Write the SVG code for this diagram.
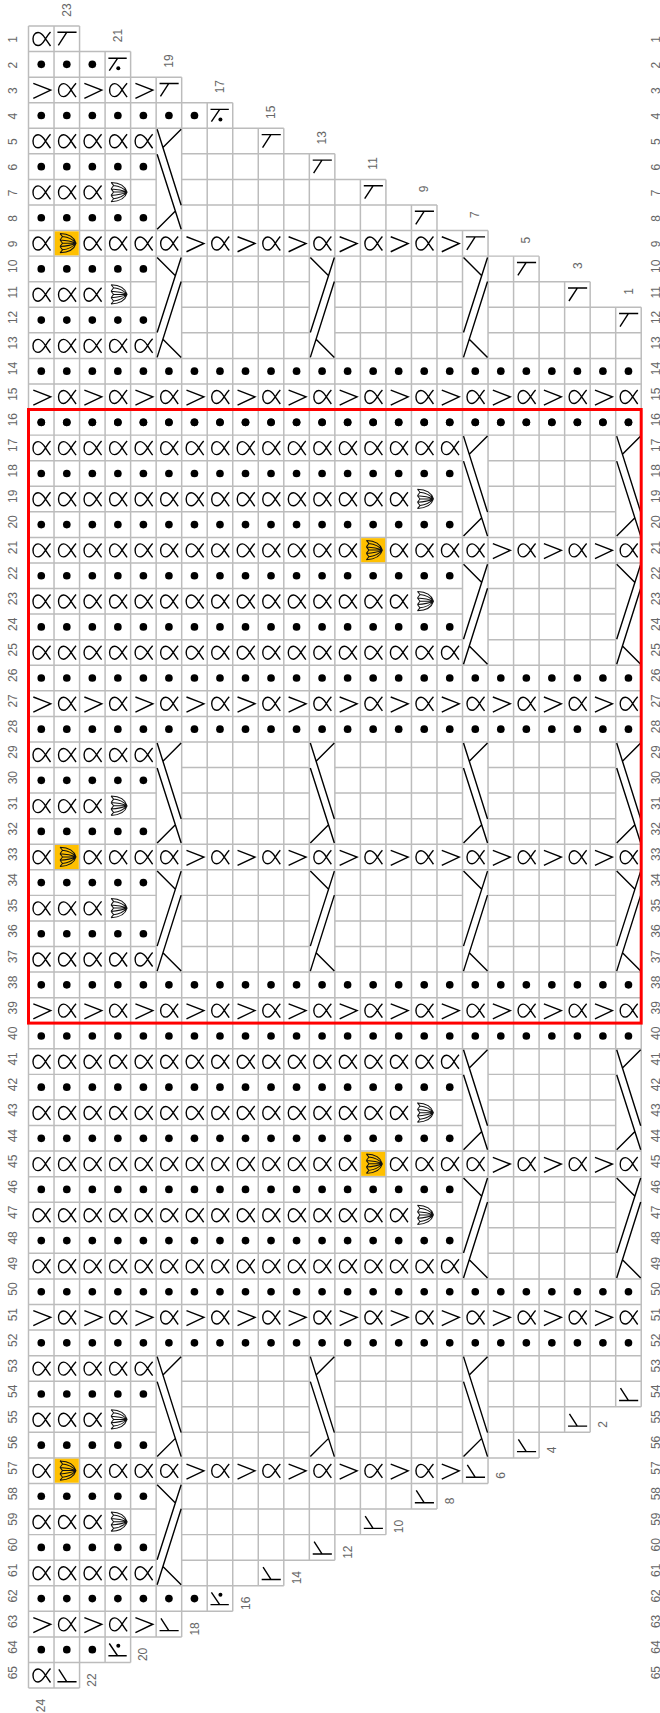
<svg xmlns="http://www.w3.org/2000/svg" width="660" height="1713" viewBox="0 0 660 1713">
<style>
.g{stroke:#bcbcbc;stroke-width:.058;fill:none}
.k{stroke:#000;stroke-width:1.4;fill:none}
.s{stroke:#111;stroke-width:1;fill:none}
.dot{fill:#000}
.n{font:12px "Liberation Sans",Arial,sans-serif;fill:#666}
.m{text-anchor:middle}
.r{fill:none;stroke:#f00;stroke-width:3}
</style>
<defs>
<circle id="d" class="dot" cx=".5" cy=".5" r=".15"/>
<g id="d2"><use href="#d"/><use href="#d" x="1"/></g>
<g id="d4"><use href="#d2"/><use href="#d2" x="2"/></g>
<g id="d5"><use href="#d4"/><use href="#d" x="4"/></g>
<g id="d7"><use href="#d5"/><use href="#d2" x="5"/></g>
<g id="d8"><use href="#d4"/><use href="#d4" x="4"/></g>
<g id="d16"><use href="#d8"/><use href="#d8" x="8"/></g>
<g id="d17"><use href="#d16"/><use href="#d" x="16"/></g>
<g id="d24"><use href="#d16"/><use href="#d8" x="16"/></g>
<g id="a" transform="scale(.0392 .0391)"><path class="k" d="M22 6C20 8 18.5 10.5 17 12.8C15 16 13 19.5 9.5 19.5C6.5 19.5 4.5 16.5 4.5 12.8C4.5 9.5 6.5 6.5 9.5 6.5C13 6.5 15 9.5 17 12.8C18.5 15 20 17.5 22 20"/></g>
<g id="a2"><use href="#a"/><use href="#a" x="1"/></g>
<g id="a3"><use href="#a2"/><use href="#a" x="2"/></g>
<g id="a4"><use href="#a2"/><use href="#a2" x="2"/></g>
<g id="a5"><use href="#a4"/><use href="#a" x="4"/></g>
<g id="a8"><use href="#a4"/><use href="#a4" x="4"/></g>
<g id="a15"><use href="#a8"/><use href="#a4" x="8"/><use href="#a3" x="12"/></g>
<g id="a16"><use href="#a8"/><use href="#a8" x="8"/></g>
<g id="a17"><use href="#a16"/><use href="#a" x="16"/></g>
<g id="v" transform="scale(.0392 .0391)"><path class="k" d="M4.8 6.2L22.2 12.9L4.8 21.2"/></g>
<g id="p2"><use href="#v"/><use href="#a" x="1"/></g>
<g id="p4"><use href="#p2"/><use href="#p2" x="2"/></g>
<g id="p8"><use href="#p4"/><use href="#p4" x="4"/></g>
<g id="p16"><use href="#p8"/><use href="#p8" x="8"/></g>
<g id="p24"><use href="#p16"/><use href="#p8" x="16"/></g>
<g id="q2"><use href="#a"/><use href="#v" x="1"/></g>
<g id="q4"><use href="#q2"/><use href="#q2" x="2"/></g>
<g id="q8"><use href="#q4"/><use href="#q4" x="4"/></g>
<g id="q12"><use href="#q8"/><use href="#q4" x="8"/></g>
<g id="q16"><use href="#q8"/><use href="#q8" x="8"/></g>
<g id="t" transform="scale(.0392 .0391)"><path class="k" d="M3.4 6.3H22.5M12.5 6.6L4.3 19.3"/></g>
<g id="T" transform="scale(.0392 .0391)"><path class="k" d="M3.4 19.3H22.5M12.5 19L4.8 7"/></g>
<g id="td" transform="scale(.0392 .0391)"><path class="k" d="M3.3 6.7H21.6M12.3 7L4.2 19"/><circle class="dot" cx="13.2" cy="16.7" r="2"/></g>
<g id="Td" transform="scale(.0392 .0391)"><path class="k" d="M3.3 18.9H21.6M12.3 18.6L4.2 6.6"/><circle class="dot" cx="13.2" cy="8.9" r="2"/></g>
<g id="s" transform="scale(.0392 .0391)"><path class="s" d="M6 3C13 3.3 20 6 22 12.7C20 19.5 13 22 6 22.3M6 3L8.5 6M6 22.3L8.5 19.3M8.5 6C14 6.5 19 9 22 12.7M8.5 19.3C14 18.8 19 16 22 12.7M8.5 6L6 9.5M8.5 19.3L6 16M6 9.5C12 9.8 18 11 22 12.7M6 16C12 15.6 18 14.4 22 12.7M6 9.5L8.5 12.7L6 16M8.5 12.7H22"/></g>
<g id="y"><rect x=".03" y=".03" width=".94" height=".94" fill="#ffc000"/><use href="#s"/></g>
<g id="sh"><use href="#a"/><use href="#y" x="1"/><use href="#a3" x="2"/></g>
<g id="l3"><use href="#a3"/><use href="#s" x="3"/></g>
<g id="mr"><use href="#a15"/><use href="#s" x="15"/></g>
<g id="L"><use href="#a5"/><use href="#d5" y="1"/><use href="#l3" y="2"/><use href="#d5" y="3"/></g>
<g id="R"><use href="#d5"/><use href="#l3" y="1"/><use href="#d5" y="2"/><use href="#a5" y="3"/></g>
<g id="M"><use href="#a17"/><use href="#d17" y="1"/><use href="#mr" y="2"/><use href="#d17" y="3"/></g>
<g id="N"><use href="#d17"/><use href="#mr" y="1"/><use href="#d17" y="2"/><use href="#a17" y="3"/></g>
<g id="h"><use href="#a8"/><use href="#a4" x="8"/><use href="#a" x="12"/><use href="#y" x="13"/><use href="#a3" x="14"/><use href="#q2" x="17"/><use href="#q4" x="19"/><use href="#a" x="23"/></g>
<g id="o"><use href="#sh"/><use href="#q16" x="5"/><use href="#q2" x="21"/><use href="#a" x="23"/></g>
<g id="c" transform="scale(.0392 .0391)"><path class="k" d="M1 1L25 77M25 1L7 19M1 26L25 101M1 101L19 83"/></g>
<g id="C" transform="translate(0 4) scale(1 -1)"><use href="#c"/></g>
<g id="z"><use href="#d24"/><use href="#p24" y="1"/><use href="#d24" y="2"/></g>
</defs>
<g id="chart" transform="translate(28.5 26) scale(25.53 25.57)">
<path id="grid-v" class="g" d="M0 0V65M1 0V65M2 0V65M3 1V64M4 1V64M5 2V63M6 2V63M7 3V62M8 3V62M9 4V61M10 4V61M11 5V60M12 5V60M13 6V59M14 6V59M15 7V58M16 7V58M17 8V57M18 8V57M19 9V56M20 9V56M21 10V55M22 10V55M23 11V54M24 11V54"/>
<path id="grid-h" class="g" d="M0 0H2M0 1H4M0 2H6M0 3H8M0 4H10M0 5H5M6 5H12M0 6H5M6 6H14M0 7H5M6 7H16M0 8H18M0 9H20M0 10H5M6 10H11M12 10H17M18 10H22M0 11H5M6 11H11M12 11H17M18 11H24M0 12H5M6 12H11M12 12H17M18 12H24M0 13H24M0 14H24M0 15H24M0 16H24M0 17H17M18 17H23M0 18H17M18 18H23M0 19H17M18 19H23M0 20H24M0 21H24M0 22H17M18 22H23M0 23H17M18 23H23M0 24H17M18 24H23M0 25H24M0 26H24M0 27H24M0 28H24M0 29H5M6 29H11M12 29H17M18 29H23M0 30H5M6 30H11M12 30H17M18 30H23M0 31H5M6 31H11M12 31H17M18 31H23M0 32H24M0 33H24M0 34H5M6 34H11M12 34H17M18 34H23M0 35H5M6 35H11M12 35H17M18 35H23M0 36H5M6 36H11M12 36H17M18 36H23M0 37H24M0 38H24M0 39H24M0 40H24M0 41H17M18 41H23M0 42H17M18 42H23M0 43H17M18 43H23M0 44H24M0 45H24M0 46H17M18 46H23M0 47H17M18 47H23M0 48H17M18 48H23M0 49H24M0 50H24M0 51H24M0 52H24M0 53H5M6 53H11M12 53H17M18 53H24M0 54H5M6 54H11M12 54H17M18 54H24M0 55H5M6 55H11M12 55H17M18 55H22M0 56H20M0 57H18M0 58H5M6 58H16M0 59H5M6 59H14M0 60H5M6 60H12M0 61H10M0 62H8M0 63H6M0 64H4M0 65H2"/>
<g id="stitches">
<use href="#a" y="0"/><use href="#t" x="1" y="0"/>
<use href="#d2" y="1"/><use href="#d" x="2" y="1"/><use href="#td" x="3" y="1"/>
<use href="#p4" y="2"/><use href="#v" x="4" y="2"/><use href="#t" x="5" y="2"/>
<use href="#d7" y="3"/><use href="#td" x="7" y="3"/>
<use href="#L" y="4"/><use href="#t" x="9" y="4"/><use href="#t" x="11" y="5"/><use href="#t" x="13" y="6"/><use href="#t" x="15" y="7"/>
<use href="#sh" y="8"/><use href="#q12" x="5" y="8"/><use href="#t" x="17" y="8"/>
<use href="#R" y="9"/><use href="#t" x="19" y="9"/><use href="#t" x="21" y="10"/><use href="#t" x="23" y="11"/>
<use href="#z" y="13"/>
<use href="#d24" y="15"/>
<use href="#M" y="16"/><use href="#h" y="20"/><use href="#N" y="21"/>
<use href="#z" y="25"/>
<use href="#L" y="28"/><use href="#o" y="32"/><use href="#R" y="33"/>
<use href="#z" y="37"/>
<use href="#M" y="40"/><use href="#h" y="44"/><use href="#N" y="45"/>
<use href="#z" y="49"/>
<use href="#L" y="52"/><use href="#T" x="23" y="53"/><use href="#T" x="21" y="54"/><use href="#T" x="19" y="55"/>
<use href="#sh" y="56"/><use href="#q12" x="5" y="56"/><use href="#T" x="17" y="56"/>
<use href="#R" y="57"/><use href="#T" x="15" y="57"/><use href="#T" x="13" y="58"/><use href="#T" x="11" y="59"/><use href="#T" x="9" y="60"/>
<use href="#d7" y="61"/><use href="#Td" x="7" y="61"/>
<use href="#p4" y="62"/><use href="#v" x="4" y="62"/><use href="#T" x="5" y="62"/>
<use href="#d2" y="63"/><use href="#d" x="2" y="63"/><use href="#Td" x="3" y="63"/>
<use href="#a" y="64"/><use href="#T" x="1" y="64"/>
</g>
<g id="connectors">
<use href="#c" x="5" y="4"/>
<use href="#C" x="5" y="9"/><use href="#C" x="11" y="9"/><use href="#C" x="17" y="9"/>
<use href="#c" x="17" y="16"/><use href="#c" x="23" y="16"/>
<use href="#C" x="17" y="21"/><use href="#C" x="23" y="21"/>
<use href="#c" x="5" y="28"/><use href="#c" x="11" y="28"/><use href="#c" x="17" y="28"/><use href="#c" x="23" y="28"/>
<use href="#C" x="5" y="33"/><use href="#C" x="11" y="33"/><use href="#C" x="17" y="33"/><use href="#C" x="23" y="33"/>
<use href="#c" x="17" y="40"/><use href="#c" x="23" y="40"/>
<use href="#C" x="17" y="45"/><use href="#C" x="23" y="45"/>
<use href="#c" x="5" y="52"/><use href="#c" x="11" y="52"/><use href="#c" x="17" y="52"/>
<use href="#C" x="5" y="57"/>
</g>
</g>
<rect id="repeat" class="r" x="28.5" y="409.5" width="612.7" height="613.6"/>
<g id="col-labels" class="n m">
<text transform="translate(66.8 10) rotate(-90)" y="4">23</text>
<text transform="translate(117.9 35.6) rotate(-90)" y="4">21</text>
<text transform="translate(169 61.1) rotate(-90)" y="4">19</text>
<text transform="translate(220 86.7) rotate(-90)" y="4">17</text>
<text transform="translate(271.1 112.3) rotate(-90)" y="4">15</text>
<text transform="translate(322.1 137.8) rotate(-90)" y="4">13</text>
<text transform="translate(373.2 163.4) rotate(-90)" y="4">11</text>
<text transform="translate(424.3 189) rotate(-90)" y="4">9</text>
<text transform="translate(475.3 214.6) rotate(-90)" y="4">7</text>
<text transform="translate(526.4 240.1) rotate(-90)" y="4">5</text>
<text transform="translate(577.5 265.7) rotate(-90)" y="4">3</text>
<text transform="translate(628.5 291.3) rotate(-90)" y="4">1</text>
<text transform="translate(41.3 1705.6) rotate(-90)" y="4">24</text>
<text transform="translate(92.3 1680) rotate(-90)" y="4">22</text>
<text transform="translate(143.4 1654.4) rotate(-90)" y="4">20</text>
<text transform="translate(194.5 1628.9) rotate(-90)" y="4">18</text>
<text transform="translate(245.5 1603.3) rotate(-90)" y="4">16</text>
<text transform="translate(296.6 1577.7) rotate(-90)" y="4">14</text>
<text transform="translate(347.7 1552.2) rotate(-90)" y="4">12</text>
<text transform="translate(398.7 1526.6) rotate(-90)" y="4">10</text>
<text transform="translate(449.8 1501) rotate(-90)" y="4">8</text>
<text transform="translate(500.8 1475.5) rotate(-90)" y="4">6</text>
<text transform="translate(551.9 1449.9) rotate(-90)" y="4">4</text>
<text transform="translate(603 1424.3) rotate(-90)" y="4">2</text>
</g>
<g id="row-labels-left" class="n" transform="translate(13.3 4)">
<text transform="translate(0 38.8) rotate(-90)" y="4">1</text><text transform="translate(0 64.4) rotate(-90)" y="4">2</text><text transform="translate(0 89.9) rotate(-90)" y="4">3</text><text transform="translate(0 115.5) rotate(-90)" y="4">4</text><text transform="translate(0 141.1) rotate(-90)" y="4">5</text><text transform="translate(0 166.6) rotate(-90)" y="4">6</text><text transform="translate(0 192.2) rotate(-90)" y="4">7</text><text transform="translate(0 217.8) rotate(-90)" y="4">8</text><text transform="translate(0 243.3) rotate(-90)" y="4">9</text><text transform="translate(0 268.9) rotate(-90)" y="4">10</text><text transform="translate(0 294.5) rotate(-90)" y="4">11</text><text transform="translate(0 320.1) rotate(-90)" y="4">12</text><text transform="translate(0 345.6) rotate(-90)" y="4">13</text><text transform="translate(0 371.2) rotate(-90)" y="4">14</text><text transform="translate(0 396.8) rotate(-90)" y="4">15</text><text transform="translate(0 422.3) rotate(-90)" y="4">16</text><text transform="translate(0 447.9) rotate(-90)" y="4">17</text><text transform="translate(0 473.5) rotate(-90)" y="4">18</text><text transform="translate(0 499) rotate(-90)" y="4">19</text><text transform="translate(0 524.6) rotate(-90)" y="4">20</text><text transform="translate(0 550.2) rotate(-90)" y="4">21</text><text transform="translate(0 575.8) rotate(-90)" y="4">22</text><text transform="translate(0 601.3) rotate(-90)" y="4">23</text><text transform="translate(0 626.9) rotate(-90)" y="4">24</text><text transform="translate(0 652.5) rotate(-90)" y="4">25</text><text transform="translate(0 678) rotate(-90)" y="4">26</text><text transform="translate(0 703.6) rotate(-90)" y="4">27</text><text transform="translate(0 729.2) rotate(-90)" y="4">28</text><text transform="translate(0 754.7) rotate(-90)" y="4">29</text><text transform="translate(0 780.3) rotate(-90)" y="4">30</text><text transform="translate(0 805.9) rotate(-90)" y="4">31</text><text transform="translate(0 831.5) rotate(-90)" y="4">32</text><text transform="translate(0 857) rotate(-90)" y="4">33</text><text transform="translate(0 882.6) rotate(-90)" y="4">34</text><text transform="translate(0 908.2) rotate(-90)" y="4">35</text><text transform="translate(0 933.7) rotate(-90)" y="4">36</text><text transform="translate(0 959.3) rotate(-90)" y="4">37</text><text transform="translate(0 984.9) rotate(-90)" y="4">38</text><text transform="translate(0 1010.4) rotate(-90)" y="4">39</text><text transform="translate(0 1036) rotate(-90)" y="4">40</text><text transform="translate(0 1061.6) rotate(-90)" y="4">41</text><text transform="translate(0 1087.2) rotate(-90)" y="4">42</text><text transform="translate(0 1112.7) rotate(-90)" y="4">43</text><text transform="translate(0 1138.3) rotate(-90)" y="4">44</text><text transform="translate(0 1163.9) rotate(-90)" y="4">45</text><text transform="translate(0 1189.4) rotate(-90)" y="4">46</text><text transform="translate(0 1215) rotate(-90)" y="4">47</text><text transform="translate(0 1240.6) rotate(-90)" y="4">48</text><text transform="translate(0 1266.1) rotate(-90)" y="4">49</text><text transform="translate(0 1291.7) rotate(-90)" y="4">50</text><text transform="translate(0 1317.3) rotate(-90)" y="4">51</text><text transform="translate(0 1342.9) rotate(-90)" y="4">52</text><text transform="translate(0 1368.4) rotate(-90)" y="4">53</text><text transform="translate(0 1394) rotate(-90)" y="4">54</text><text transform="translate(0 1419.6) rotate(-90)" y="4">55</text><text transform="translate(0 1445.1) rotate(-90)" y="4">56</text><text transform="translate(0 1470.7) rotate(-90)" y="4">57</text><text transform="translate(0 1496.3) rotate(-90)" y="4">58</text><text transform="translate(0 1521.8) rotate(-90)" y="4">59</text><text transform="translate(0 1547.4) rotate(-90)" y="4">60</text><text transform="translate(0 1573) rotate(-90)" y="4">61</text><text transform="translate(0 1598.6) rotate(-90)" y="4">62</text><text transform="translate(0 1624.1) rotate(-90)" y="4">63</text><text transform="translate(0 1649.7) rotate(-90)" y="4">64</text><text transform="translate(0 1675.3) rotate(-90)" y="4">65</text>
</g>
<g id="row-labels-right" class="n" transform="translate(655.5 4)">
<text transform="translate(0 38.8) rotate(-90)" y="4">1</text><text transform="translate(0 64.4) rotate(-90)" y="4">2</text><text transform="translate(0 89.9) rotate(-90)" y="4">3</text><text transform="translate(0 115.5) rotate(-90)" y="4">4</text><text transform="translate(0 141.1) rotate(-90)" y="4">5</text><text transform="translate(0 166.6) rotate(-90)" y="4">6</text><text transform="translate(0 192.2) rotate(-90)" y="4">7</text><text transform="translate(0 217.8) rotate(-90)" y="4">8</text><text transform="translate(0 243.3) rotate(-90)" y="4">9</text><text transform="translate(0 268.9) rotate(-90)" y="4">10</text><text transform="translate(0 294.5) rotate(-90)" y="4">11</text><text transform="translate(0 320.1) rotate(-90)" y="4">12</text><text transform="translate(0 345.6) rotate(-90)" y="4">13</text><text transform="translate(0 371.2) rotate(-90)" y="4">14</text><text transform="translate(0 396.8) rotate(-90)" y="4">15</text><text transform="translate(0 422.3) rotate(-90)" y="4">16</text><text transform="translate(0 447.9) rotate(-90)" y="4">17</text><text transform="translate(0 473.5) rotate(-90)" y="4">18</text><text transform="translate(0 499) rotate(-90)" y="4">19</text><text transform="translate(0 524.6) rotate(-90)" y="4">20</text><text transform="translate(0 550.2) rotate(-90)" y="4">21</text><text transform="translate(0 575.8) rotate(-90)" y="4">22</text><text transform="translate(0 601.3) rotate(-90)" y="4">23</text><text transform="translate(0 626.9) rotate(-90)" y="4">24</text><text transform="translate(0 652.5) rotate(-90)" y="4">25</text><text transform="translate(0 678) rotate(-90)" y="4">26</text><text transform="translate(0 703.6) rotate(-90)" y="4">27</text><text transform="translate(0 729.2) rotate(-90)" y="4">28</text><text transform="translate(0 754.7) rotate(-90)" y="4">29</text><text transform="translate(0 780.3) rotate(-90)" y="4">30</text><text transform="translate(0 805.9) rotate(-90)" y="4">31</text><text transform="translate(0 831.5) rotate(-90)" y="4">32</text><text transform="translate(0 857) rotate(-90)" y="4">33</text><text transform="translate(0 882.6) rotate(-90)" y="4">34</text><text transform="translate(0 908.2) rotate(-90)" y="4">35</text><text transform="translate(0 933.7) rotate(-90)" y="4">36</text><text transform="translate(0 959.3) rotate(-90)" y="4">37</text><text transform="translate(0 984.9) rotate(-90)" y="4">38</text><text transform="translate(0 1010.4) rotate(-90)" y="4">39</text><text transform="translate(0 1036) rotate(-90)" y="4">40</text><text transform="translate(0 1061.6) rotate(-90)" y="4">41</text><text transform="translate(0 1087.2) rotate(-90)" y="4">42</text><text transform="translate(0 1112.7) rotate(-90)" y="4">43</text><text transform="translate(0 1138.3) rotate(-90)" y="4">44</text><text transform="translate(0 1163.9) rotate(-90)" y="4">45</text><text transform="translate(0 1189.4) rotate(-90)" y="4">46</text><text transform="translate(0 1215) rotate(-90)" y="4">47</text><text transform="translate(0 1240.6) rotate(-90)" y="4">48</text><text transform="translate(0 1266.1) rotate(-90)" y="4">49</text><text transform="translate(0 1291.7) rotate(-90)" y="4">50</text><text transform="translate(0 1317.3) rotate(-90)" y="4">51</text><text transform="translate(0 1342.9) rotate(-90)" y="4">52</text><text transform="translate(0 1368.4) rotate(-90)" y="4">53</text><text transform="translate(0 1394) rotate(-90)" y="4">54</text><text transform="translate(0 1419.6) rotate(-90)" y="4">55</text><text transform="translate(0 1445.1) rotate(-90)" y="4">56</text><text transform="translate(0 1470.7) rotate(-90)" y="4">57</text><text transform="translate(0 1496.3) rotate(-90)" y="4">58</text><text transform="translate(0 1521.8) rotate(-90)" y="4">59</text><text transform="translate(0 1547.4) rotate(-90)" y="4">60</text><text transform="translate(0 1573) rotate(-90)" y="4">61</text><text transform="translate(0 1598.6) rotate(-90)" y="4">62</text><text transform="translate(0 1624.1) rotate(-90)" y="4">63</text><text transform="translate(0 1649.7) rotate(-90)" y="4">64</text><text transform="translate(0 1675.3) rotate(-90)" y="4">65</text>
</g>
</svg>
